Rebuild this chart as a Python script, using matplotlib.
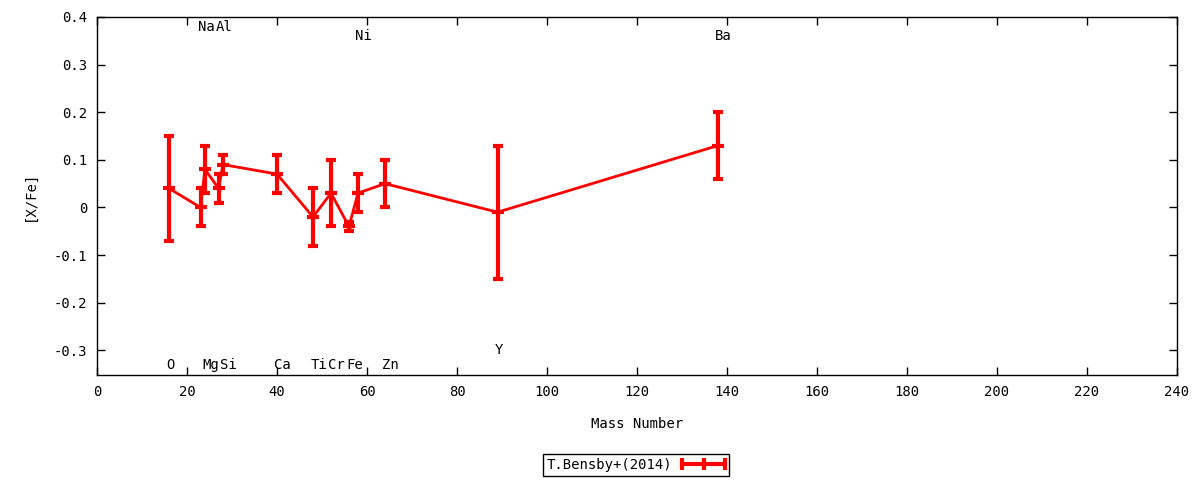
import numpy as np
import matplotlib.pyplot as plt
from matplotlib.ticker import FuncFormatter
from matplotlib.legend_handler import HandlerBase
from matplotlib.lines import Line2D

# abundance ratios, T.Bensby+(2014)
elements = ['O', 'Na', 'Mg', 'Al', 'Si', 'Ca', 'Ti', 'Cr', 'Fe', 'Ni', 'Zn', 'Y', 'Ba']
mass = [16, 23, 24, 27, 28, 40, 48, 52, 56, 58, 64, 89, 138]
xfe = [0.04, 0.00, 0.08, 0.04, 0.09, 0.07, -0.02, 0.03, -0.04, 0.03, 0.05, -0.01, 0.13]
err_lo = [-0.07, -0.04, 0.03, 0.01, 0.07, 0.03, -0.08, -0.04, -0.05, -0.01, 0.00, -0.15, 0.06]
err_hi = [0.15, 0.04, 0.13, 0.07, 0.11, 0.11, 0.04, 0.10, -0.03, 0.07, 0.10, 0.13, 0.20]
label_y = [-0.33, 0.38, -0.33, 0.38, -0.33, -0.33, -0.33, -0.33, -0.33, 0.36, -0.33, -0.30, 0.36]

plt.rcParams['font.family'] = ['DejaVu Sans Mono']
plt.rcParams['font.size'] = 10


# gnuplot style key sample: thick horizontal bar with ticks at ends and middle
class HandlerErrKey(HandlerBase):
    def create_artists(self, legend, orig_handle, xdescent, ydescent,
                       width, height, fontsize, trans):
        yc = height / 2 - ydescent
        x0, x1 = -xdescent, width - xdescent
        xm = (x0 + x1) / 2
        line = Line2D([x0, x1], [yc, yc], color='#ff0000', lw=3, transform=trans)
        ticks = Line2D([x0, xm, x1], [yc, yc, yc], ls='none', marker='|',
                       ms=9, mew=3, color='#ff0000', transform=trans)
        return [line, ticks]


fig = plt.figure(figsize=(12, 4.8), dpi=100)
ax = fig.add_axes([97 / 1200, 1 - 375 / 480, 1080 / 1200, 358 / 480])

x = np.array(mass)
y = np.array(xfe)
yerr = np.array([y - np.array(err_lo), np.array(err_hi) - y])

eb = ax.errorbar(x, y, yerr=yerr, color='#ff0000', lw=2, elinewidth=3,
                 capsize=3.5, capthick=3, marker='_', ms=8, mew=3)

for el, m, ly in zip(elements, mass, label_y):
    ax.text(m - 0.6, ly, el, ha='left', va='center', fontsize=10)

ax.set_xlim(0, 240)
ax.set_ylim(-0.352, 0.4)
ax.set_xticks(np.arange(0, 241, 20))
ax.set_yticks(np.arange(-0.3, 0.41, 0.1))
ax.yaxis.set_major_formatter(FuncFormatter(lambda v, p: '%g' % round(v, 2)))
ax.tick_params(direction='in', length=6, width=1, top=True, right=True, pad=7)
for s in ax.spines.values():
    s.set_linewidth(1)

ax.set_xlabel('Mass Number', labelpad=13)
ax.set_ylabel('[X/Fe]', labelpad=12)

leg = fig.legend([eb], ['T.Bensby+(2014)'], loc='center',
                 bbox_to_anchor=(636 / 1200, 1 - 465 / 480),
                 handler_map={type(eb): HandlerErrKey()},
                 markerfirst=False, fancybox=False, framealpha=1,
                 edgecolor='black', handlelength=3.1, handletextpad=0.7,
                 borderpad=0.3, borderaxespad=0)
leg.get_frame().set_linewidth(1)

plt.savefig('out.png', dpi=100)
